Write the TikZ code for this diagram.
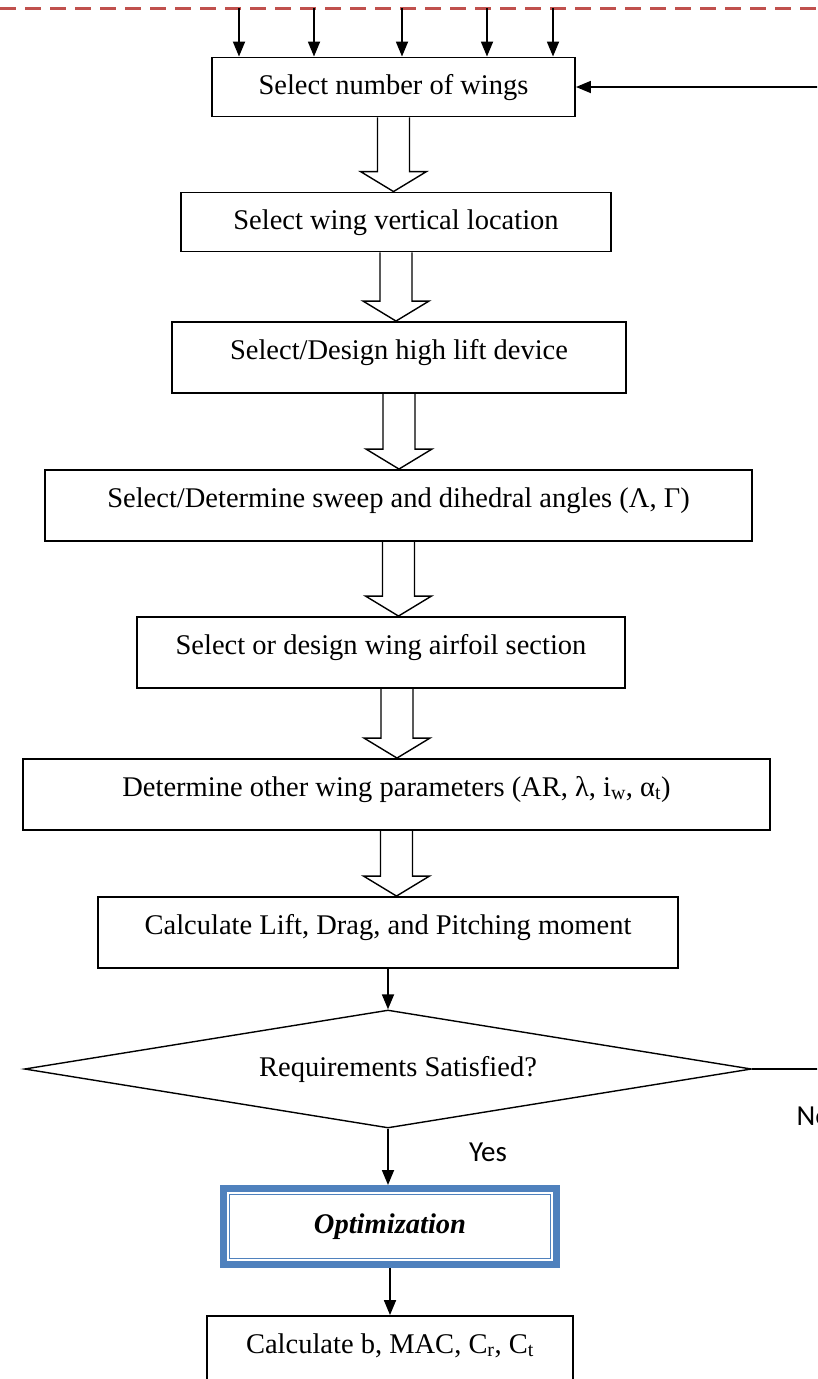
\documentclass[tikz,border=0pt]{standalone}
\usepackage{fontspec}
\setmainfont{Liberation Serif}
\newfontfamily\yesnofont{Carlito}
\usetikzlibrary{positioning,arrows.meta,calc,shapes.geometric}
\definecolor{dashred}{RGB}{192,80,77}
\definecolor{optblue}{RGB}{79,129,189}

% hollow block arrow between two boxes, optional x offset
\newcommand{\blockarrow}[3][0]{%
  \draw[hollow] let \p1=(#2), \p2=(#3) in
    (\x1+#1pt-16pt,\y1) -- (\x1+#1pt-16pt,\y2+20pt) -- (\x1+#1pt-33pt,\y2+20pt)
    -- (\x1+#1pt,\y2) -- (\x1+#1pt+33pt,\y2+20pt) -- (\x1+#1pt+16pt,\y2+20pt)
    -- (\x1+#1pt+16pt,\y1);}

\begin{document}
\begin{tikzpicture}[x=1pt, y=-1pt,
  font=\fontsize{28.5}{34}\selectfont,
  box/.style={draw, line width=1.9pt, inner sep=0pt, text height=37pt, text depth=34pt},
  short/.style={text height=36.5pt, text depth=22.5pt},
  arr/.style={line width=1.8pt, -{Triangle[length=15pt,width=12pt]}},
  hollow/.style={line width=1.4pt},
  yesno/.style={font=\yesnofont\fontsize{29}{34}\selectfont}]
  \useasboundingbox (0,0) rectangle (817,1379);
  \fill[white] (0,0) rectangle (817,1379);
  \clip (0,0) rectangle (817,1379);

  % dashed border of the upper stage
  \coordinate (dl) at (0,8);
  \coordinate (dr) at (817,8);
  \draw[dashred, line width=3pt, dash pattern=on 16pt off 9pt] (dl) -- (dr);

  \node[box, short, minimum width=363pt, anchor=base] (wings) at (393.5,94) {Select number of wings};
  \node[box, short, minimum width=430pt, anchor=base] (vert) at (396,229) {Select wing vertical location};
  \node[box, minimum width=454pt, anchor=base] (hld) at (399,359) {Select/Design high lift device};
  \node[box, minimum width=707pt, anchor=base] (sweep) at (398.5,507) {Select/Determine sweep and dihedral angles (Λ, Γ)};
  \node[box, minimum width=488pt, anchor=base] (foil) at (381,654) {Select or design wing airfoil section};
  \node[box, minimum width=747pt, anchor=base] (param) at (396.5,796) {Determine other wing parameters (AR, λ, i\textsubscript{w}, α\textsubscript{t})};
  \node[box, minimum width=580pt, anchor=base] (calc) at (388,934) {Calculate Lift, Drag, and Pitching moment};
  \node[diamond, draw, line width=1.4pt, inner sep=0pt, aspect=6.16, minimum width=727pt, minimum height=118pt] (req) at (388,1069)
    {\hspace*{20pt}Requirements Satisfied?};
  \node[draw=optblue, line width=7pt, inner sep=0pt, minimum width=333pt, minimum height=76pt,
    font=\fontsize{28.5}{34}\selectfont\bfseries\itshape] (opt) at (390,1226.5) {Optimization};
  \draw[optblue, line width=1.6pt] ([shift={(9.5,9.5)}]opt.north west) rectangle ([shift={(-9.5,-9.5)}]opt.south east);
  \node[box, minimum width=366pt, anchor=base] (geom) at (390,1353) {Calculate b, MAC, C\textsubscript{r}, C\textsubscript{t}};

  \node[yesno] (yes) at (488,1152) {Yes};
  \node[yesno, anchor=west] (no) at (793,1116) {No};

  % inputs from the upper stage
  \foreach \x [count=\i] in {239,314,402,487,553} {
    \coordinate (in\i) at (\x,8);
    \draw[arr] (in\i) -- (in\i |- wings.north);
  }

  \blockarrow{wings.south}{vert.north}
  \blockarrow{vert.south}{hld.north}
  \blockarrow{hld.south}{sweep.north}
  \blockarrow{sweep.south}{foil.north}
  \blockarrow[16]{foil.south}{param.north}
  \blockarrow{param.south}{calc.north}

  \draw[arr] (calc.south) -- (req.north);
  \draw[arr] (req.south) -- (req.south |- opt.north);
  \draw[arr] (opt.south) -- (geom.north);
  \draw[arr] (req.east) -- ++(100,0) |- (wings.east);
\end{tikzpicture}
\end{document}
